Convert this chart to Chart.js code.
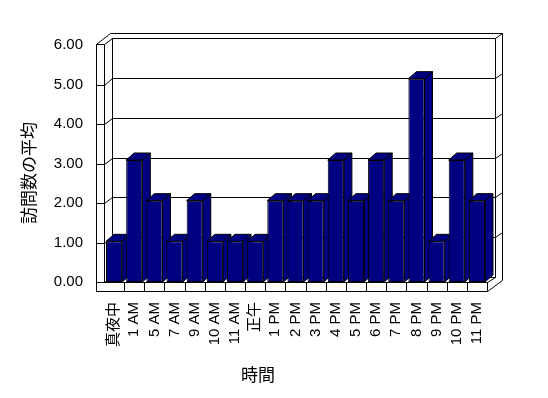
<!DOCTYPE html>
<html><head><meta charset="utf-8">
<script src="https://cdn.jsdelivr.net/npm/chart.js@4/dist/chart.umd.min.js"></script>
<style>html,body{margin:0;padding:0;background:#fff;}canvas{display:block;}</style>
</head><body>
<canvas id="c" width="548" height="398"></canvas>
<script>
const categories = ['真夜中','1 AM','5 AM','7 AM','9 AM','10 AM','11 AM','正午','1 PM','2 PM','3 PM','4 PM','5 PM','6 PM','7 PM','8 PM','9 PM','10 PM','11 PM'];
const visits = [1,3,2,1,2,1,1,1,2,2,2,3,2,3,2,5,1,3,2];
const yTicks = [0,1,2,3,4,5,6];
const xTitle = '時間';
const yTitle = '訪問数の平均';

const NAVY = '#000080';
const BAR_DX = 8, BAR_DY = -7;

function seg(ctx, pts) {
  ctx.beginPath();
  pts.forEach((p, i) => {
    const X = Math.round(p[0]) + 0.5, Y = Math.round(p[1]) + 0.5;
    if (i === 0) ctx.moveTo(X, Y); else ctx.lineTo(X, Y);
  });
  ctx.stroke();
}
function poly(ctx, pts) {
  ctx.beginPath();
  pts.forEach((p, i) => { if (i === 0) ctx.moveTo(p[0], p[1]); else ctx.lineTo(p[0], p[1]); });
  ctx.closePath();
  ctx.fill();
  ctx.stroke();
}

const excel3d = {
  id: 'excel3d',
  beforeDatasetsDraw(chart) {
    const {ctx, chartArea: a, scales} = chart;
    const x = scales.x, y = scales.y, yl = scales.yl;
    const L = a.left, R = a.right, T = a.top, B = a.bottom;
    const bL = L + 8, bR = R + 8, bB = B - 5;
    const yb = v => T + (y.getPixelForValue(v) - T) * (bB - T) / (B - T);
    ctx.save();
    ctx.strokeStyle = '#000';
    ctx.lineWidth = 1;
    // back wall gridlines
    yTicks.forEach(v => {
      const g = yb(v);
      seg(ctx, [[bL, g], [bR, g]]);
      if (v > 0) seg(ctx, [[bR, g], [bR + 7, g - 5]]);
    });
    seg(ctx, [[bL, T], [bL, bB]]);
    seg(ctx, [[bR, T], [bR, bB]]);
    // outer top and right edges of back wall
    seg(ctx, [[L + 6, T - 5], [bR + 7, T - 5]]);
    seg(ctx, [[bR + 7, T - 5], [bR + 7, B - 2]]);
    // left wall slab
    const fTop = yl.getPixelForValue(6);
    seg(ctx, [[L - 8, fTop - 1], [L - 8, B + 9]]);
    seg(ctx, [[L, fTop - 1], [L, B]]);
    seg(ctx, [[L - 8, fTop - 1], [L, fTop - 1]]);
    seg(ctx, [[L - 8, fTop - 1], [L + 6, T - 5]]);
    seg(ctx, [[L, fTop - 1], [bL, T]]);
    yTicks.forEach(v => {
      if (v === 6) return;
      const f = yl.getPixelForValue(v);
      seg(ctx, [[L - 8, f], [L, f]]);
      seg(ctx, [[L, f], [bL, yb(v)]]);
    });
    // floor
    seg(ctx, [[L - 8, B], [R, B]]);
    seg(ctx, [[L - 8, B + 9], [R, B + 9]]);
    seg(ctx, [[R, B], [R, B + 9]]);
    for (let i = 0; i < categories.length - 1; i++) {
      const bx = (x.getPixelForValue(i) + x.getPixelForValue(i + 1)) / 2;
      seg(ctx, [[bx, B], [bx, B + 9]]);
    }
    seg(ctx, [[R, B + 9], [bR + 7, B - 2]]);
    seg(ctx, [[R, B], [bR, bB]]);
    // bar depth faces
    ctx.fillStyle = NAVY;
    ctx.lineJoin = 'miter';
    const meta = chart.getDatasetMeta(0);
    meta.data.forEach(el => {
      const p = el.getProps(['x', 'y', 'base', 'width'], true);
      const l = p.x - p.width / 2, r = p.x + p.width / 2, t = p.y, b = p.base;
      poly(ctx, [[r, t], [r + BAR_DX, t + BAR_DY], [r + BAR_DX, b + BAR_DY], [r, b]]);
      poly(ctx, [[l, t], [l + BAR_DX, t + BAR_DY], [r + BAR_DX, t + BAR_DY], [r, t]]);
    });
    ctx.restore();
  },
  afterDraw(chart) {
    const {ctx} = chart;
    ctx.save();
    ctx.fillStyle = '#000';
    ctx.font = "17px 'Noto Sans CJK JP'";
    ctx.textAlign = 'center';
    ctx.textBaseline = 'middle';
    ctx.fillText(xTitle, 258, 375);
    ctx.translate(29, 173);
    ctx.rotate(-Math.PI / 2);
    ctx.fillText(yTitle, 0, 0);
    ctx.restore();
  }
};

const tickFont = {family: "'Liberation Sans', 'Noto Sans CJK JP'", size: 15};

new Chart(document.getElementById('c'), {
  type: 'bar',
  data: {
    labels: categories,
    datasets: [{
      data: visits,
      backgroundColor: NAVY,
      borderColor: '#000',
      borderWidth: 1,
      borderSkipped: false,
      barPercentage: 0.8,
      categoryPercentage: 1.0
    }]
  },
  options: {
    responsive: false,
    devicePixelRatio: 1,
    animation: false,
    events: [],
    layout: {padding: {top: 38, right: 61, left: 0, bottom: 0}},
    plugins: {legend: {display: false}, tooltip: {enabled: false}},
    scales: {
      x: {
        type: 'category',
        offset: true,
        grid: {display: false, drawTicks: false},
        border: {display: false},
        ticks: {autoSkip: false, minRotation: 90, maxRotation: 90, padding: 20, color: '#000', font: tickFont},
        afterFit(s) { s.height = 116; }
      },
      y: {
        display: false,
        min: 0, max: 6
      },
      yl: {
        type: 'linear',
        position: 'left',
        min: 0, max: 6.18,
        grid: {display: false, drawTicks: false},
        border: {display: false},
        ticks: {padding: 21, color: '#000', font: tickFont, callback: v => Number(v).toFixed(2)},
        afterBuildTicks(s) { s.ticks = yTicks.map(v => ({value: v})); },
        afterFit(s) { s.width = 104; }
      }
    }
  },
  plugins: [excel3d]
});
</script>
</body></html>
